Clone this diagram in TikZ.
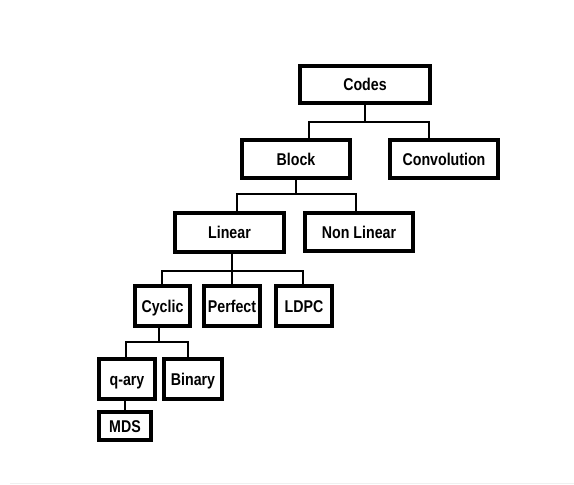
\documentclass[tikz,border=0pt]{standalone}
\usepackage{graphicx}
\usepackage{fontspec}
\setmainfont{Liberation Sans}
% labels are set slightly tall and narrow
\newcommand{\tall}[1]{\scalebox{1}[1.2]{#1}}
\begin{document}
\begin{tikzpicture}[x=1pt,y=-1pt,
  box/.style={draw=black, line width=3.6pt, rectangle, inner sep=0pt,
    text height=12pt, text depth=0pt,
    font=\fontsize{14.2}{16}\selectfont\bfseries},
  conn/.style={draw=black, line width=2.3pt}]
\useasboundingbox (0,0) rectangle (574,485);
\fill[white] (0,0) rectangle (574,485);
% faint rule near the bottom edge
\draw[black!6, line width=1pt] (10,483) -- (574,483);

% boxes (centre, outer size minus border width)
\node[box, minimum width=130.4pt, minimum height=37.4pt] (codes)  at (365,84.5) {\tall{Codes}};
\node[box, minimum width=108.4pt, minimum height=38.4pt] (block)  at (296,159)  {\tall{Block}};
\node[box, minimum width=108.4pt, minimum height=38.4pt] (conv)   at (444,159)  {\tall{Convolution}};
\node[box, minimum width=109.4pt, minimum height=39.4pt] (linear) at (229.5,232.5) {\tall{Linear}};
\node[box, minimum width=108.4pt, minimum height=38.4pt] (nonlin) at (359,232)  {\tall{Non Linear}};
\node[box, minimum width=55.4pt,  minimum height=40.4pt] (cyclic) at (162.5,306) {\tall{Cyclic}};
\node[box, minimum width=56.4pt,  minimum height=40.4pt] (perf)   at (232,306)  {\tall{Perfect}};
\node[box, minimum width=56.4pt,  minimum height=40.4pt] (ldpc)   at (304,306)  {\tall{LDPC}};
\node[box, minimum width=56.4pt,  minimum height=40.4pt] (qary)   at (127,379)  {\tall{q-ary}};
\node[box, minimum width=58.4pt,  minimum height=40.4pt] (binary) at (193,379)  {\tall{Binary}};
\node[box, minimum width=52.4pt,  minimum height=28.4pt] (mds)    at (125,426)  {\tall{MDS}};

% branch points
\coordinate (a1) at (309,122);
\coordinate (a2) at (429,122);
\coordinate (b1) at (237,194);
\coordinate (b2) at (356,194);
\coordinate (c1) at (162,271);
\coordinate (c2) at (232,271);
\coordinate (c3) at (303,271);
\coordinate (e0) at (159,342);
\coordinate (e1) at (126,342);
\coordinate (e2) at (188,342);

% Codes -> Block, Convolution
\draw[conn] (codes.south) |- (a1) -- (a1 |- block.north);
\draw[conn] (codes.south) |- (a2) -- (a2 |- conv.north);
% Block -> Linear, Non Linear
\draw[conn] (block.south) |- (b1) -- (b1 |- linear.north);
\draw[conn] (block.south) |- (b2) -- (b2 |- nonlin.north);
% Linear -> Cyclic, Perfect, LDPC
\draw[conn] (linear.south -| c2) -- (c2) -- (c2 |- perf.north);
\draw[conn] (c2) -- (c1) -- (c1 |- cyclic.north);
\draw[conn] (c2) -- (c3) -- (c3 |- ldpc.north);
% Cyclic -> q-ary, Binary
\draw[conn] (cyclic.south -| e0) -- (e0);
\draw[conn] (e1 |- qary.north) -- (e1) -- (e2) -- (e2 |- binary.north);
% q-ary -> MDS
\draw[conn] (mds.north |- qary.south) -- (mds.north);
\end{tikzpicture}
\end{document}
